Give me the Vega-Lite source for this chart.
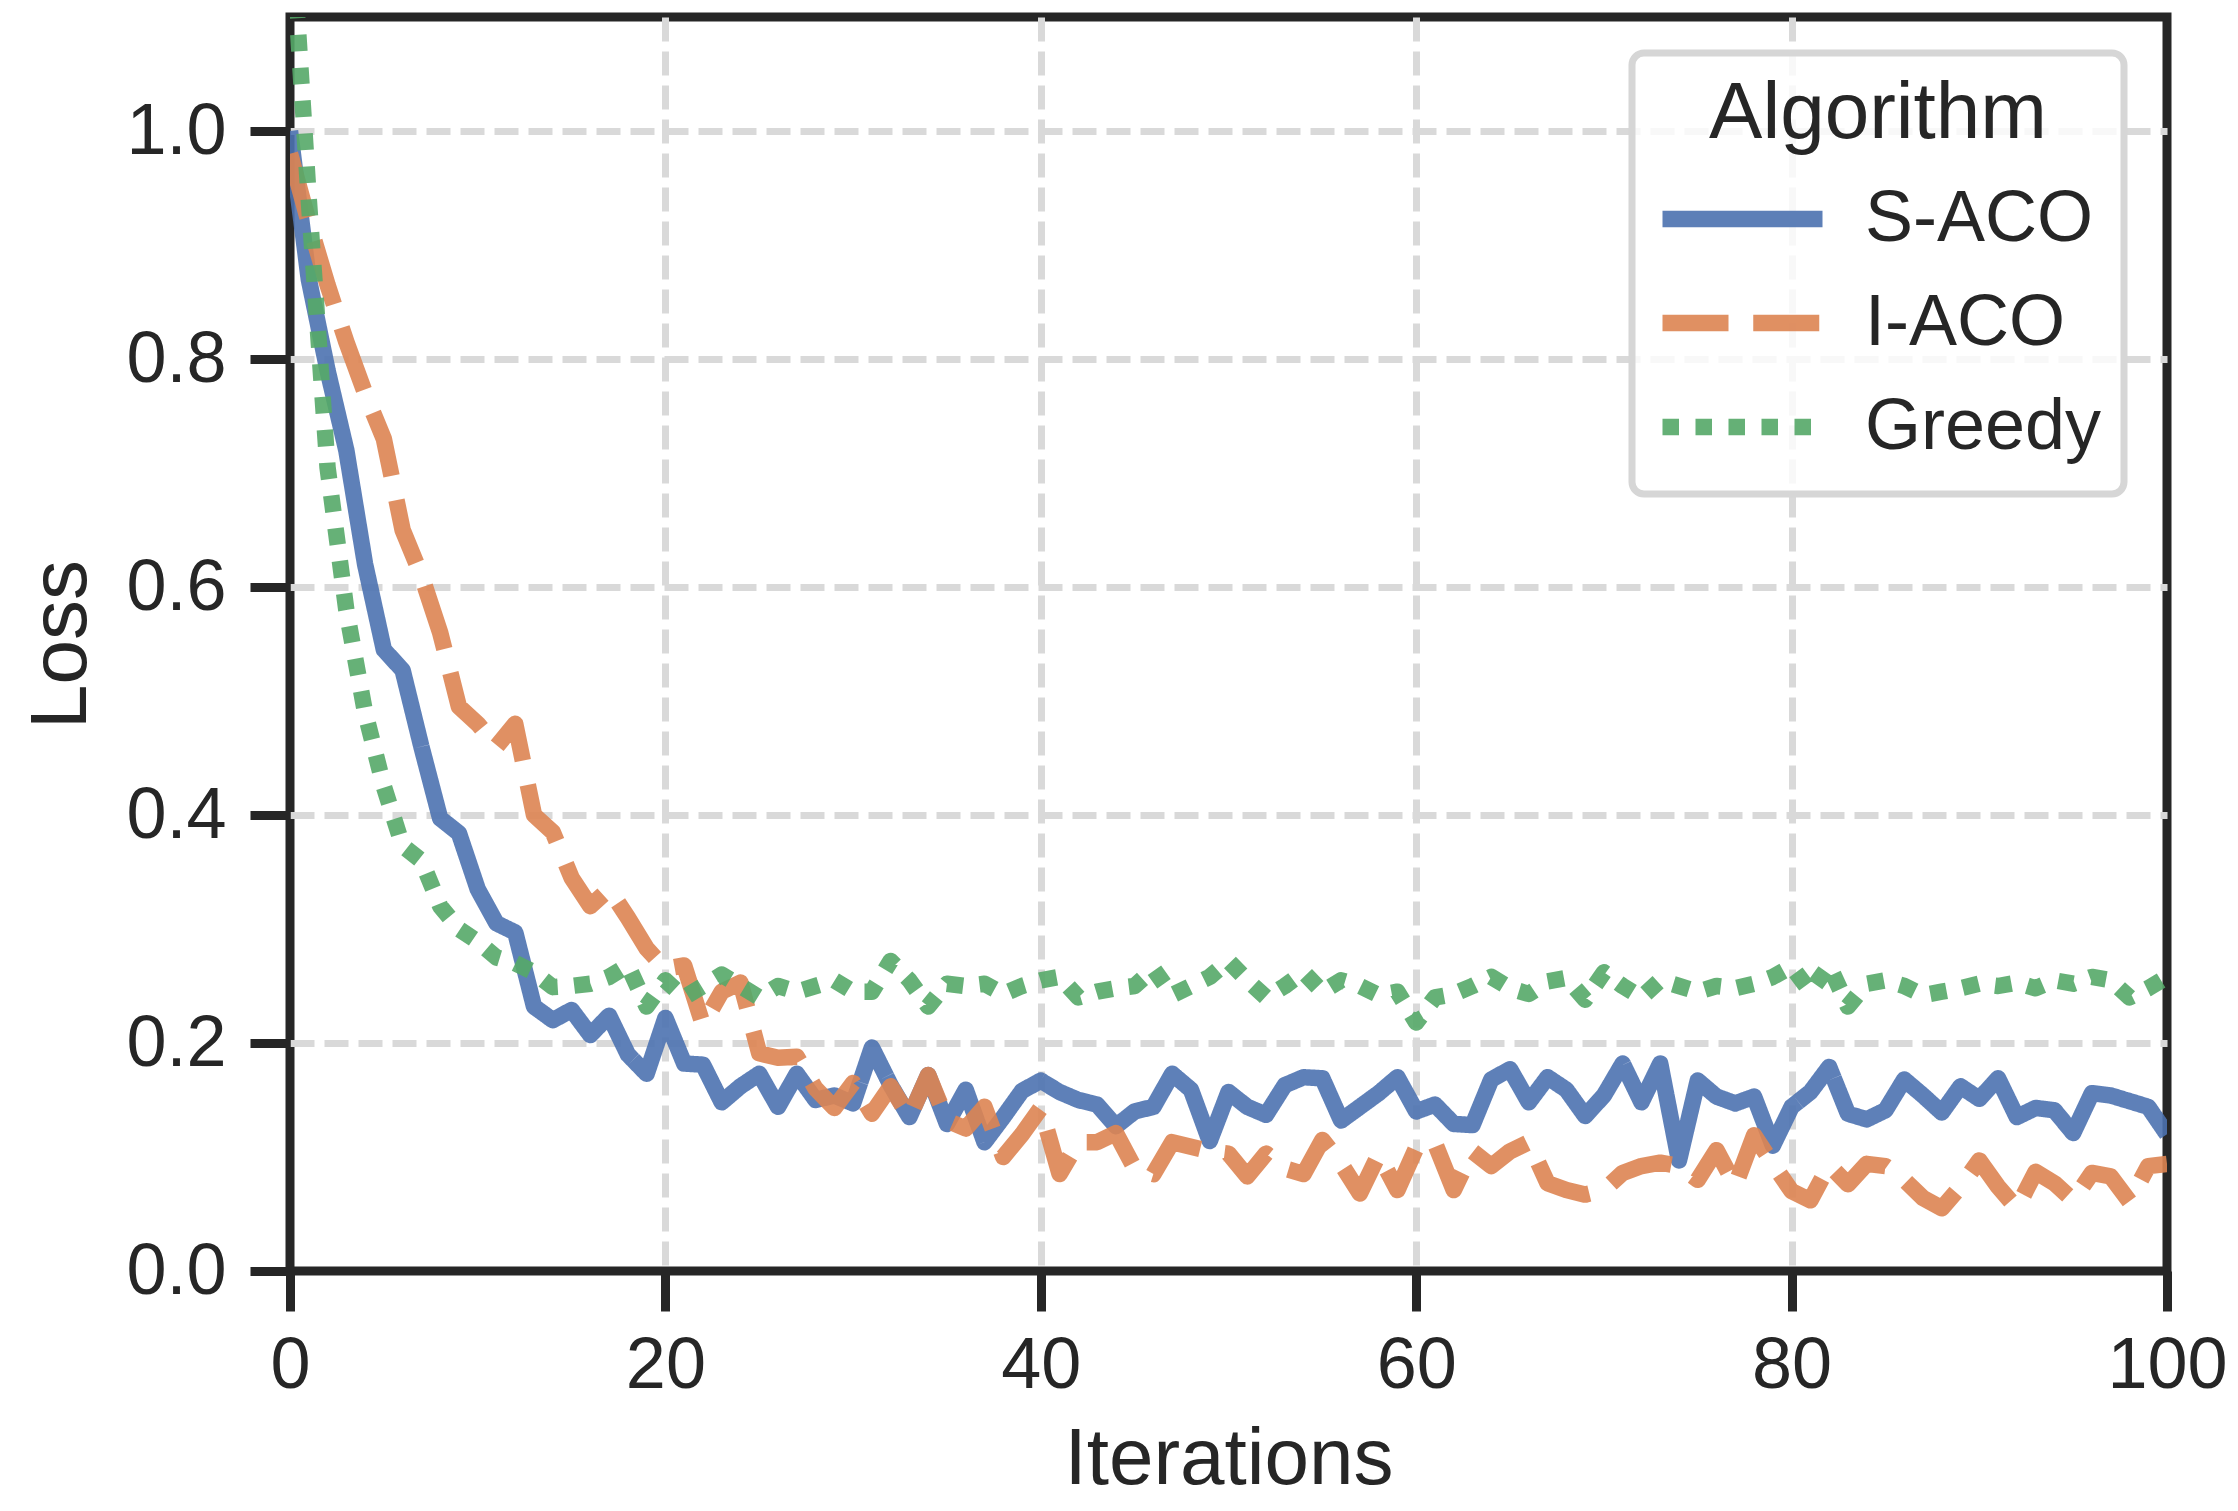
{
  "$schema": "https://vega.github.io/schema/vega-lite/v6.json",
  "width": 1877,
  "height": 1254,
  "autosize": {"type": "none"},
  "padding": {"left": 290, "top": 17, "right": 71, "bottom": 240},
  "background": "white",
  "config": {
    "font": "Liberation Sans",
    "view": {"stroke": "#262626", "strokeWidth": 9},
    "axis": {
      "domain": false,
      "ticks": true,
      "tickSize": 40,
      "tickWidth": 9,
      "tickColor": "#262626",
      "labelFont": "Liberation Sans",
      "labelFontSize": 72,
      "labelColor": "#262626",
      "labelFlush": false,
      "labelOverlap": false,
      "titleFont": "Liberation Sans",
      "titleFontSize": 80,
      "titleFontWeight": "normal",
      "titleColor": "#262626",
      "grid": true,
      "gridColor": "#d9d9d9",
      "gridWidth": 7,
      "gridDash": [24, 10]
    },
    "legend": {
      "orient": "none",
      "legendX": 1342,
      "legendY": 36,
      "padding": 22,
      "strokeColor": "#d6d6d6",
      "fillColor": "rgba(255,255,255,0.8)",
      "cornerRadius": 12,
      "titleFont": "Liberation Sans",
      "titleFontSize": 80,
      "titleFontWeight": "normal",
      "titleColor": "#262626",
      "titleAnchor": "middle",
      "titlePadding": 19,
      "titleLimit": 600,
      "labelFont": "Liberation Sans",
      "labelFontSize": 72,
      "labelColor": "#262626",
      "labelLimit": 500,
      "labelOffset": 34,
      "symbolType": "stroke",
      "symbolSize": 25600,
      "symbolStrokeWidth": 16.5,
      "symbolOpacity": 0.9,
      "clipHeight": 90,
      "rowPadding": 14
    }
  },
  "data": {
    "values": [
      {"iteration": 0, "algorithm": "S-ACO", "loss": 1.0},
      {"iteration": 1, "algorithm": "S-ACO", "loss": 0.87},
      {"iteration": 2, "algorithm": "S-ACO", "loss": 0.79},
      {"iteration": 3, "algorithm": "S-ACO", "loss": 0.72},
      {"iteration": 4, "algorithm": "S-ACO", "loss": 0.62},
      {"iteration": 5, "algorithm": "S-ACO", "loss": 0.545},
      {"iteration": 6, "algorithm": "S-ACO", "loss": 0.527},
      {"iteration": 7, "algorithm": "S-ACO", "loss": 0.46},
      {"iteration": 8, "algorithm": "S-ACO", "loss": 0.397},
      {"iteration": 9, "algorithm": "S-ACO", "loss": 0.384},
      {"iteration": 10, "algorithm": "S-ACO", "loss": 0.335},
      {"iteration": 11, "algorithm": "S-ACO", "loss": 0.305},
      {"iteration": 12, "algorithm": "S-ACO", "loss": 0.297},
      {"iteration": 13, "algorithm": "S-ACO", "loss": 0.232},
      {"iteration": 14, "algorithm": "S-ACO", "loss": 0.22},
      {"iteration": 15, "algorithm": "S-ACO", "loss": 0.229},
      {"iteration": 16, "algorithm": "S-ACO", "loss": 0.207},
      {"iteration": 17, "algorithm": "S-ACO", "loss": 0.224},
      {"iteration": 18, "algorithm": "S-ACO", "loss": 0.19},
      {"iteration": 19, "algorithm": "S-ACO", "loss": 0.173},
      {"iteration": 20, "algorithm": "S-ACO", "loss": 0.222},
      {"iteration": 21, "algorithm": "S-ACO", "loss": 0.182},
      {"iteration": 22, "algorithm": "S-ACO", "loss": 0.181},
      {"iteration": 23, "algorithm": "S-ACO", "loss": 0.148},
      {"iteration": 24, "algorithm": "S-ACO", "loss": 0.162},
      {"iteration": 25, "algorithm": "S-ACO", "loss": 0.173},
      {"iteration": 26, "algorithm": "S-ACO", "loss": 0.144},
      {"iteration": 27, "algorithm": "S-ACO", "loss": 0.173},
      {"iteration": 28, "algorithm": "S-ACO", "loss": 0.15},
      {"iteration": 29, "algorithm": "S-ACO", "loss": 0.154},
      {"iteration": 30, "algorithm": "S-ACO", "loss": 0.147},
      {"iteration": 31, "algorithm": "S-ACO", "loss": 0.196},
      {"iteration": 32, "algorithm": "S-ACO", "loss": 0.163},
      {"iteration": 33, "algorithm": "S-ACO", "loss": 0.135},
      {"iteration": 34, "algorithm": "S-ACO", "loss": 0.172},
      {"iteration": 35, "algorithm": "S-ACO", "loss": 0.129},
      {"iteration": 36, "algorithm": "S-ACO", "loss": 0.159},
      {"iteration": 37, "algorithm": "S-ACO", "loss": 0.113},
      {"iteration": 38, "algorithm": "S-ACO", "loss": 0.135},
      {"iteration": 39, "algorithm": "S-ACO", "loss": 0.158},
      {"iteration": 40, "algorithm": "S-ACO", "loss": 0.167},
      {"iteration": 41, "algorithm": "S-ACO", "loss": 0.157},
      {"iteration": 42, "algorithm": "S-ACO", "loss": 0.15},
      {"iteration": 43, "algorithm": "S-ACO", "loss": 0.146},
      {"iteration": 44, "algorithm": "S-ACO", "loss": 0.127},
      {"iteration": 45, "algorithm": "S-ACO", "loss": 0.14},
      {"iteration": 46, "algorithm": "S-ACO", "loss": 0.144},
      {"iteration": 47, "algorithm": "S-ACO", "loss": 0.173},
      {"iteration": 48, "algorithm": "S-ACO", "loss": 0.159},
      {"iteration": 49, "algorithm": "S-ACO", "loss": 0.114},
      {"iteration": 50, "algorithm": "S-ACO", "loss": 0.157},
      {"iteration": 51, "algorithm": "S-ACO", "loss": 0.144},
      {"iteration": 52, "algorithm": "S-ACO", "loss": 0.137},
      {"iteration": 53, "algorithm": "S-ACO", "loss": 0.163},
      {"iteration": 54, "algorithm": "S-ACO", "loss": 0.17},
      {"iteration": 55, "algorithm": "S-ACO", "loss": 0.169},
      {"iteration": 56, "algorithm": "S-ACO", "loss": 0.132},
      {"iteration": 57, "algorithm": "S-ACO", "loss": 0.144},
      {"iteration": 58, "algorithm": "S-ACO", "loss": 0.156},
      {"iteration": 59, "algorithm": "S-ACO", "loss": 0.17},
      {"iteration": 60, "algorithm": "S-ACO", "loss": 0.14},
      {"iteration": 61, "algorithm": "S-ACO", "loss": 0.146},
      {"iteration": 62, "algorithm": "S-ACO", "loss": 0.129},
      {"iteration": 63, "algorithm": "S-ACO", "loss": 0.128},
      {"iteration": 64, "algorithm": "S-ACO", "loss": 0.168},
      {"iteration": 65, "algorithm": "S-ACO", "loss": 0.177},
      {"iteration": 66, "algorithm": "S-ACO", "loss": 0.148},
      {"iteration": 67, "algorithm": "S-ACO", "loss": 0.17},
      {"iteration": 68, "algorithm": "S-ACO", "loss": 0.159},
      {"iteration": 69, "algorithm": "S-ACO", "loss": 0.136},
      {"iteration": 70, "algorithm": "S-ACO", "loss": 0.154},
      {"iteration": 71, "algorithm": "S-ACO", "loss": 0.182},
      {"iteration": 72, "algorithm": "S-ACO", "loss": 0.148},
      {"iteration": 73, "algorithm": "S-ACO", "loss": 0.182},
      {"iteration": 74, "algorithm": "S-ACO", "loss": 0.097},
      {"iteration": 75, "algorithm": "S-ACO", "loss": 0.167},
      {"iteration": 76, "algorithm": "S-ACO", "loss": 0.153},
      {"iteration": 77, "algorithm": "S-ACO", "loss": 0.147},
      {"iteration": 78, "algorithm": "S-ACO", "loss": 0.153},
      {"iteration": 79, "algorithm": "S-ACO", "loss": 0.11},
      {"iteration": 80, "algorithm": "S-ACO", "loss": 0.144},
      {"iteration": 81, "algorithm": "S-ACO", "loss": 0.157},
      {"iteration": 82, "algorithm": "S-ACO", "loss": 0.179},
      {"iteration": 83, "algorithm": "S-ACO", "loss": 0.138},
      {"iteration": 84, "algorithm": "S-ACO", "loss": 0.133},
      {"iteration": 85, "algorithm": "S-ACO", "loss": 0.141},
      {"iteration": 86, "algorithm": "S-ACO", "loss": 0.168},
      {"iteration": 87, "algorithm": "S-ACO", "loss": 0.154},
      {"iteration": 88, "algorithm": "S-ACO", "loss": 0.139},
      {"iteration": 89, "algorithm": "S-ACO", "loss": 0.162},
      {"iteration": 90, "algorithm": "S-ACO", "loss": 0.151},
      {"iteration": 91, "algorithm": "S-ACO", "loss": 0.169},
      {"iteration": 92, "algorithm": "S-ACO", "loss": 0.135},
      {"iteration": 93, "algorithm": "S-ACO", "loss": 0.143},
      {"iteration": 94, "algorithm": "S-ACO", "loss": 0.141},
      {"iteration": 95, "algorithm": "S-ACO", "loss": 0.121},
      {"iteration": 96, "algorithm": "S-ACO", "loss": 0.156},
      {"iteration": 97, "algorithm": "S-ACO", "loss": 0.154},
      {"iteration": 98, "algorithm": "S-ACO", "loss": 0.149},
      {"iteration": 99, "algorithm": "S-ACO", "loss": 0.144},
      {"iteration": 100, "algorithm": "S-ACO", "loss": 0.12},
      {"iteration": 0, "algorithm": "I-ACO", "loss": 0.98},
      {"iteration": 1, "algorithm": "I-ACO", "loss": 0.92},
      {"iteration": 2, "algorithm": "I-ACO", "loss": 0.865},
      {"iteration": 3, "algorithm": "I-ACO", "loss": 0.815},
      {"iteration": 4, "algorithm": "I-ACO", "loss": 0.77},
      {"iteration": 5, "algorithm": "I-ACO", "loss": 0.73},
      {"iteration": 6, "algorithm": "I-ACO", "loss": 0.65},
      {"iteration": 7, "algorithm": "I-ACO", "loss": 0.61},
      {"iteration": 8, "algorithm": "I-ACO", "loss": 0.56},
      {"iteration": 9, "algorithm": "I-ACO", "loss": 0.495},
      {"iteration": 10, "algorithm": "I-ACO", "loss": 0.48},
      {"iteration": 11, "algorithm": "I-ACO", "loss": 0.46},
      {"iteration": 12, "algorithm": "I-ACO", "loss": 0.48},
      {"iteration": 13, "algorithm": "I-ACO", "loss": 0.4},
      {"iteration": 14, "algorithm": "I-ACO", "loss": 0.385},
      {"iteration": 15, "algorithm": "I-ACO", "loss": 0.345},
      {"iteration": 16, "algorithm": "I-ACO", "loss": 0.32},
      {"iteration": 17, "algorithm": "I-ACO", "loss": 0.335},
      {"iteration": 18, "algorithm": "I-ACO", "loss": 0.31},
      {"iteration": 19, "algorithm": "I-ACO", "loss": 0.283},
      {"iteration": 20, "algorithm": "I-ACO", "loss": 0.265},
      {"iteration": 21, "algorithm": "I-ACO", "loss": 0.268},
      {"iteration": 22, "algorithm": "I-ACO", "loss": 0.216},
      {"iteration": 23, "algorithm": "I-ACO", "loss": 0.245},
      {"iteration": 24, "algorithm": "I-ACO", "loss": 0.253},
      {"iteration": 25, "algorithm": "I-ACO", "loss": 0.191},
      {"iteration": 26, "algorithm": "I-ACO", "loss": 0.187},
      {"iteration": 27, "algorithm": "I-ACO", "loss": 0.188},
      {"iteration": 28, "algorithm": "I-ACO", "loss": 0.16},
      {"iteration": 29, "algorithm": "I-ACO", "loss": 0.143},
      {"iteration": 30, "algorithm": "I-ACO", "loss": 0.165},
      {"iteration": 31, "algorithm": "I-ACO", "loss": 0.138},
      {"iteration": 32, "algorithm": "I-ACO", "loss": 0.162},
      {"iteration": 33, "algorithm": "I-ACO", "loss": 0.135},
      {"iteration": 34, "algorithm": "I-ACO", "loss": 0.172},
      {"iteration": 35, "algorithm": "I-ACO", "loss": 0.132},
      {"iteration": 36, "algorithm": "I-ACO", "loss": 0.125},
      {"iteration": 37, "algorithm": "I-ACO", "loss": 0.144},
      {"iteration": 38, "algorithm": "I-ACO", "loss": 0.1},
      {"iteration": 39, "algorithm": "I-ACO", "loss": 0.12},
      {"iteration": 40, "algorithm": "I-ACO", "loss": 0.143},
      {"iteration": 41, "algorithm": "I-ACO", "loss": 0.085},
      {"iteration": 42, "algorithm": "I-ACO", "loss": 0.113},
      {"iteration": 43, "algorithm": "I-ACO", "loss": 0.113},
      {"iteration": 44, "algorithm": "I-ACO", "loss": 0.121},
      {"iteration": 45, "algorithm": "I-ACO", "loss": 0.09},
      {"iteration": 46, "algorithm": "I-ACO", "loss": 0.085},
      {"iteration": 47, "algorithm": "I-ACO", "loss": 0.113},
      {"iteration": 48, "algorithm": "I-ACO", "loss": 0.109},
      {"iteration": 49, "algorithm": "I-ACO", "loss": 0.105},
      {"iteration": 50, "algorithm": "I-ACO", "loss": 0.103},
      {"iteration": 51, "algorithm": "I-ACO", "loss": 0.083},
      {"iteration": 52, "algorithm": "I-ACO", "loss": 0.103},
      {"iteration": 53, "algorithm": "I-ACO", "loss": 0.09},
      {"iteration": 54, "algorithm": "I-ACO", "loss": 0.085},
      {"iteration": 55, "algorithm": "I-ACO", "loss": 0.115},
      {"iteration": 56, "algorithm": "I-ACO", "loss": 0.094},
      {"iteration": 57, "algorithm": "I-ACO", "loss": 0.068},
      {"iteration": 58, "algorithm": "I-ACO", "loss": 0.102},
      {"iteration": 59, "algorithm": "I-ACO", "loss": 0.071},
      {"iteration": 60, "algorithm": "I-ACO", "loss": 0.108},
      {"iteration": 61, "algorithm": "I-ACO", "loss": 0.112},
      {"iteration": 62, "algorithm": "I-ACO", "loss": 0.071},
      {"iteration": 63, "algorithm": "I-ACO", "loss": 0.105},
      {"iteration": 64, "algorithm": "I-ACO", "loss": 0.092},
      {"iteration": 65, "algorithm": "I-ACO", "loss": 0.105},
      {"iteration": 66, "algorithm": "I-ACO", "loss": 0.113},
      {"iteration": 67, "algorithm": "I-ACO", "loss": 0.077},
      {"iteration": 68, "algorithm": "I-ACO", "loss": 0.071},
      {"iteration": 69, "algorithm": "I-ACO", "loss": 0.067},
      {"iteration": 70, "algorithm": "I-ACO", "loss": 0.071},
      {"iteration": 71, "algorithm": "I-ACO", "loss": 0.086},
      {"iteration": 72, "algorithm": "I-ACO", "loss": 0.092},
      {"iteration": 73, "algorithm": "I-ACO", "loss": 0.095},
      {"iteration": 74, "algorithm": "I-ACO", "loss": 0.092},
      {"iteration": 75, "algorithm": "I-ACO", "loss": 0.08},
      {"iteration": 76, "algorithm": "I-ACO", "loss": 0.106},
      {"iteration": 77, "algorithm": "I-ACO", "loss": 0.075},
      {"iteration": 78, "algorithm": "I-ACO", "loss": 0.119},
      {"iteration": 79, "algorithm": "I-ACO", "loss": 0.094},
      {"iteration": 80, "algorithm": "I-ACO", "loss": 0.07},
      {"iteration": 81, "algorithm": "I-ACO", "loss": 0.062},
      {"iteration": 82, "algorithm": "I-ACO", "loss": 0.093},
      {"iteration": 83, "algorithm": "I-ACO", "loss": 0.076},
      {"iteration": 84, "algorithm": "I-ACO", "loss": 0.094},
      {"iteration": 85, "algorithm": "I-ACO", "loss": 0.092},
      {"iteration": 86, "algorithm": "I-ACO", "loss": 0.08},
      {"iteration": 87, "algorithm": "I-ACO", "loss": 0.064},
      {"iteration": 88, "algorithm": "I-ACO", "loss": 0.055},
      {"iteration": 89, "algorithm": "I-ACO", "loss": 0.074},
      {"iteration": 90, "algorithm": "I-ACO", "loss": 0.097},
      {"iteration": 91, "algorithm": "I-ACO", "loss": 0.074},
      {"iteration": 92, "algorithm": "I-ACO", "loss": 0.055},
      {"iteration": 93, "algorithm": "I-ACO", "loss": 0.087},
      {"iteration": 94, "algorithm": "I-ACO", "loss": 0.077},
      {"iteration": 95, "algorithm": "I-ACO", "loss": 0.062},
      {"iteration": 96, "algorithm": "I-ACO", "loss": 0.086},
      {"iteration": 97, "algorithm": "I-ACO", "loss": 0.083},
      {"iteration": 98, "algorithm": "I-ACO", "loss": 0.061},
      {"iteration": 99, "algorithm": "I-ACO", "loss": 0.092},
      {"iteration": 100, "algorithm": "I-ACO", "loss": 0.094},
      {"iteration": 0, "algorithm": "Greedy", "loss": 1.2},
      {"iteration": 1, "algorithm": "Greedy", "loss": 0.94},
      {"iteration": 2, "algorithm": "Greedy", "loss": 0.705},
      {"iteration": 3, "algorithm": "Greedy", "loss": 0.58},
      {"iteration": 4, "algorithm": "Greedy", "loss": 0.49},
      {"iteration": 5, "algorithm": "Greedy", "loss": 0.425},
      {"iteration": 6, "algorithm": "Greedy", "loss": 0.373},
      {"iteration": 7, "algorithm": "Greedy", "loss": 0.36},
      {"iteration": 8, "algorithm": "Greedy", "loss": 0.32},
      {"iteration": 9, "algorithm": "Greedy", "loss": 0.3},
      {"iteration": 10, "algorithm": "Greedy", "loss": 0.289},
      {"iteration": 11, "algorithm": "Greedy", "loss": 0.275},
      {"iteration": 12, "algorithm": "Greedy", "loss": 0.27},
      {"iteration": 13, "algorithm": "Greedy", "loss": 0.262},
      {"iteration": 14, "algorithm": "Greedy", "loss": 0.249},
      {"iteration": 15, "algorithm": "Greedy", "loss": 0.25},
      {"iteration": 16, "algorithm": "Greedy", "loss": 0.252},
      {"iteration": 17, "algorithm": "Greedy", "loss": 0.258},
      {"iteration": 18, "algorithm": "Greedy", "loss": 0.268},
      {"iteration": 19, "algorithm": "Greedy", "loss": 0.232},
      {"iteration": 20, "algorithm": "Greedy", "loss": 0.255},
      {"iteration": 21, "algorithm": "Greedy", "loss": 0.24},
      {"iteration": 22, "algorithm": "Greedy", "loss": 0.25},
      {"iteration": 23, "algorithm": "Greedy", "loss": 0.26},
      {"iteration": 24, "algorithm": "Greedy", "loss": 0.25},
      {"iteration": 25, "algorithm": "Greedy", "loss": 0.24},
      {"iteration": 26, "algorithm": "Greedy", "loss": 0.25},
      {"iteration": 27, "algorithm": "Greedy", "loss": 0.245},
      {"iteration": 28, "algorithm": "Greedy", "loss": 0.25},
      {"iteration": 29, "algorithm": "Greedy", "loss": 0.255},
      {"iteration": 30, "algorithm": "Greedy", "loss": 0.245},
      {"iteration": 31, "algorithm": "Greedy", "loss": 0.245},
      {"iteration": 32, "algorithm": "Greedy", "loss": 0.272},
      {"iteration": 33, "algorithm": "Greedy", "loss": 0.255},
      {"iteration": 34, "algorithm": "Greedy", "loss": 0.232},
      {"iteration": 35, "algorithm": "Greedy", "loss": 0.252},
      {"iteration": 36, "algorithm": "Greedy", "loss": 0.25},
      {"iteration": 37, "algorithm": "Greedy", "loss": 0.252},
      {"iteration": 38, "algorithm": "Greedy", "loss": 0.243},
      {"iteration": 39, "algorithm": "Greedy", "loss": 0.25},
      {"iteration": 40, "algorithm": "Greedy", "loss": 0.255},
      {"iteration": 41, "algorithm": "Greedy", "loss": 0.258},
      {"iteration": 42, "algorithm": "Greedy", "loss": 0.24},
      {"iteration": 43, "algorithm": "Greedy", "loss": 0.245},
      {"iteration": 44, "algorithm": "Greedy", "loss": 0.248},
      {"iteration": 45, "algorithm": "Greedy", "loss": 0.25},
      {"iteration": 46, "algorithm": "Greedy", "loss": 0.265},
      {"iteration": 47, "algorithm": "Greedy", "loss": 0.242},
      {"iteration": 48, "algorithm": "Greedy", "loss": 0.25},
      {"iteration": 49, "algorithm": "Greedy", "loss": 0.258},
      {"iteration": 50, "algorithm": "Greedy", "loss": 0.272},
      {"iteration": 51, "algorithm": "Greedy", "loss": 0.255},
      {"iteration": 52, "algorithm": "Greedy", "loss": 0.24},
      {"iteration": 53, "algorithm": "Greedy", "loss": 0.25},
      {"iteration": 54, "algorithm": "Greedy", "loss": 0.262},
      {"iteration": 55, "algorithm": "Greedy", "loss": 0.245},
      {"iteration": 56, "algorithm": "Greedy", "loss": 0.255},
      {"iteration": 57, "algorithm": "Greedy", "loss": 0.25},
      {"iteration": 58, "algorithm": "Greedy", "loss": 0.242},
      {"iteration": 59, "algorithm": "Greedy", "loss": 0.245},
      {"iteration": 60, "algorithm": "Greedy", "loss": 0.218},
      {"iteration": 61, "algorithm": "Greedy", "loss": 0.24},
      {"iteration": 62, "algorithm": "Greedy", "loss": 0.243},
      {"iteration": 63, "algorithm": "Greedy", "loss": 0.25},
      {"iteration": 64, "algorithm": "Greedy", "loss": 0.258},
      {"iteration": 65, "algorithm": "Greedy", "loss": 0.248},
      {"iteration": 66, "algorithm": "Greedy", "loss": 0.243},
      {"iteration": 67, "algorithm": "Greedy", "loss": 0.254},
      {"iteration": 68, "algorithm": "Greedy", "loss": 0.257},
      {"iteration": 69, "algorithm": "Greedy", "loss": 0.238},
      {"iteration": 70, "algorithm": "Greedy", "loss": 0.262},
      {"iteration": 71, "algorithm": "Greedy", "loss": 0.25},
      {"iteration": 72, "algorithm": "Greedy", "loss": 0.24},
      {"iteration": 73, "algorithm": "Greedy", "loss": 0.255},
      {"iteration": 74, "algorithm": "Greedy", "loss": 0.25},
      {"iteration": 75, "algorithm": "Greedy", "loss": 0.245},
      {"iteration": 76, "algorithm": "Greedy", "loss": 0.25},
      {"iteration": 77, "algorithm": "Greedy", "loss": 0.248},
      {"iteration": 78, "algorithm": "Greedy", "loss": 0.252},
      {"iteration": 79, "algorithm": "Greedy", "loss": 0.258},
      {"iteration": 80, "algorithm": "Greedy", "loss": 0.267},
      {"iteration": 81, "algorithm": "Greedy", "loss": 0.245},
      {"iteration": 82, "algorithm": "Greedy", "loss": 0.268},
      {"iteration": 83, "algorithm": "Greedy", "loss": 0.232},
      {"iteration": 84, "algorithm": "Greedy", "loss": 0.252},
      {"iteration": 85, "algorithm": "Greedy", "loss": 0.255},
      {"iteration": 86, "algorithm": "Greedy", "loss": 0.25},
      {"iteration": 87, "algorithm": "Greedy", "loss": 0.242},
      {"iteration": 88, "algorithm": "Greedy", "loss": 0.245},
      {"iteration": 89, "algorithm": "Greedy", "loss": 0.248},
      {"iteration": 90, "algorithm": "Greedy", "loss": 0.252},
      {"iteration": 91, "algorithm": "Greedy", "loss": 0.25},
      {"iteration": 92, "algorithm": "Greedy", "loss": 0.253},
      {"iteration": 93, "algorithm": "Greedy", "loss": 0.248},
      {"iteration": 94, "algorithm": "Greedy", "loss": 0.255},
      {"iteration": 95, "algorithm": "Greedy", "loss": 0.252},
      {"iteration": 96, "algorithm": "Greedy", "loss": 0.258},
      {"iteration": 97, "algorithm": "Greedy", "loss": 0.255},
      {"iteration": 98, "algorithm": "Greedy", "loss": 0.24},
      {"iteration": 99, "algorithm": "Greedy", "loss": 0.248},
      {"iteration": 100, "algorithm": "Greedy", "loss": 0.258}
    ]
  },
  "mark": {
    "type": "line",
    "strokeWidth": 16.5,
    "opacity": 0.9,
    "strokeJoin": "round",
    "strokeCap": "butt",
    "clip": true
  },
  "encoding": {
    "x": {
      "field": "iteration",
      "type": "quantitative",
      "scale": {"domain": [0, 100], "nice": false},
      "axis": {
        "title": "Iterations",
        "values": [0, 20, 40, 60, 80, 100],
        "format": "d",
        "labelPadding": 19,
        "titlePadding": 19,
        "gridOpacity": {
          "condition": {"test": "datum.value == 0 || datum.value == 100", "value": 0},
          "value": 1
        }
      }
    },
    "y": {
      "field": "loss",
      "type": "quantitative",
      "scale": {"domain": [0, 1.1], "nice": false},
      "axis": {
        "title": "Loss",
        "values": [0, 0.2, 0.4, 0.6, 0.8, 1.0],
        "format": ".1f",
        "labelPadding": 24,
        "titlePadding": 23,
        "gridOpacity": {
          "condition": {"test": "datum.value == 0", "value": 0},
          "value": 1
        }
      }
    },
    "color": {
      "field": "algorithm",
      "type": "nominal",
      "scale": {
        "domain": ["S-ACO", "I-ACO", "Greedy"],
        "range": ["#4c72b0", "#dd8452", "#55a868"]
      },
      "legend": {
        "title": "Algorithm",
        "encode": {
          "legend": {"update": {"strokeWidth": {"value": 7}}}
        }
      }
    },
    "strokeDash": {
      "field": "algorithm",
      "type": "nominal",
      "scale": {
        "domain": ["S-ACO", "I-ACO", "Greedy"],
        "range": [[1, 0], [66, 24.75], [16.5, 16.5]]
      },
      "legend": {"title": "Algorithm"}
    }
  }
}
